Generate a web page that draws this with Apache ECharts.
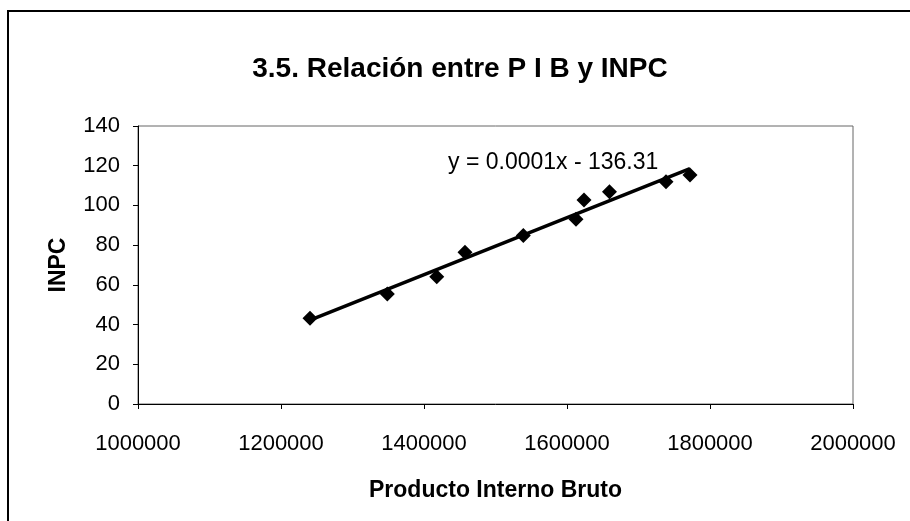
<!DOCTYPE html>
<html>
<head>
<meta charset="utf-8">
<script src="https://cdn.jsdelivr.net/npm/echarts@6/dist/echarts.min.js"></script>
<style>
  html, body { margin: 0; padding: 0; background: #fff; }
  #chart { width: 910px; height: 521px; }
</style>
</head>
<body>
<div id="chart"></div>
<script>
// Producto Interno Bruto vs INPC
var pib = [1240600, 1348700, 1417800, 1457300, 1538900, 1612600, 1623800, 1659400, 1738500, 1772000];
var inpc = [43.2, 55.4, 64.1, 76.4, 84.8, 93.0, 102.7, 106.9, 111.9, 115.3];
var trendLabel = "y = 0.0001x - 136.31";

var FONT = "'Liberation Sans', Arial, sans-serif";

// least squares fit for the trend line
function fit(xs, ys) {
  var n = xs.length, sx = 0, sy = 0, sxx = 0, sxy = 0;
  for (var i = 0; i < n; i++) {
    sx += xs[i]; sy += ys[i];
    sxx += xs[i] * xs[i]; sxy += xs[i] * ys[i];
  }
  var b = (n * sxy - sx * sy) / (n * sxx - sx * sx);
  var a = (sy - b * sx) / n;
  return { a: a, b: b };
}

var f = fit(pib, inpc);
var xMin = Math.min.apply(null, pib), xMax = Math.max.apply(null, pib);
var trend = [[xMin, f.a + f.b * xMin], [xMax, f.a + f.b * xMax]];

var points = pib.map(function (x, i) { return [x, inpc[i]]; });

var myChart = echarts.init(document.getElementById("chart"));

var option = {
  animation: false,
  backgroundColor: "#fff",
  title: {
    text: "3.5. Relación entre P I B y INPC",
    left: 455,
    top: 50,
    textAlign: "center",
    textStyle: { fontFamily: FONT, fontSize: 28, fontWeight: "bold", color: "#000" }
  },
  grid: {
    left: 138,
    right: 57,
    top: 126,
    bottom: 117,
    show: true,
    borderColor: "#666",
    borderWidth: 1
  },
  xAxis: {
    type: "value",
    min: 1000000,
    max: 2000000,
    interval: 200000,
    name: "Producto Interno Bruto",
    nameLocation: "middle",
    nameGap: 75,
    nameTextStyle: { fontFamily: FONT, fontSize: 23, fontWeight: "bold", color: "#000" },
    axisLine: { lineStyle: { color: "#000", width: 1 } },
    axisTick: { inside: false, length: 5, lineStyle: { color: "#000" } },
    splitLine: { show: false },
    axisLabel: {
      margin: 29,
      fontFamily: FONT,
      fontSize: 22,
      color: "#000",
      formatter: function (v) { return String(v); }
    }
  },
  yAxis: {
    type: "value",
    min: 0,
    max: 140,
    interval: 20,
    name: "INPC",
    nameLocation: "middle",
    nameGap: 68,
    nameTextStyle: { fontFamily: FONT, fontSize: 23, fontWeight: "bold", color: "#000" },
    axisLine: { show: true, lineStyle: { color: "#000", width: 1 } },
    axisTick: { show: true, inside: false, length: 5, lineStyle: { color: "#000" } },
    splitLine: { show: false },
    axisLabel: {
      margin: 18,
      fontFamily: FONT,
      fontSize: 22,
      color: "#000"
    }
  },
  series: [
    {
      name: "tendencia",
      type: "line",
      data: trend,
      symbol: "none",
      lineStyle: { color: "#000", width: 3.5 },
      z: 2
    },
    {
      name: "INPC",
      type: "scatter",
      data: points,
      symbol: "diamond",
      symbolSize: 15,
      itemStyle: { color: "#000", opacity: 1 },
      z: 3
    }
  ],
  graphic: [
    {
      type: "rect",
      shape: { x: 8, y: 11, width: 1000, height: 600 },
      style: { fill: "none", stroke: "#000", lineWidth: 2 },
      silent: true
    },
    {
      type: "text",
      left: 448,
      top: 151,
      style: { text: trendLabel, font: "23px " + FONT, fill: "#000" }
    }
  ]
};

option && myChart.setOption(option);
</script>
</body>
</html>
